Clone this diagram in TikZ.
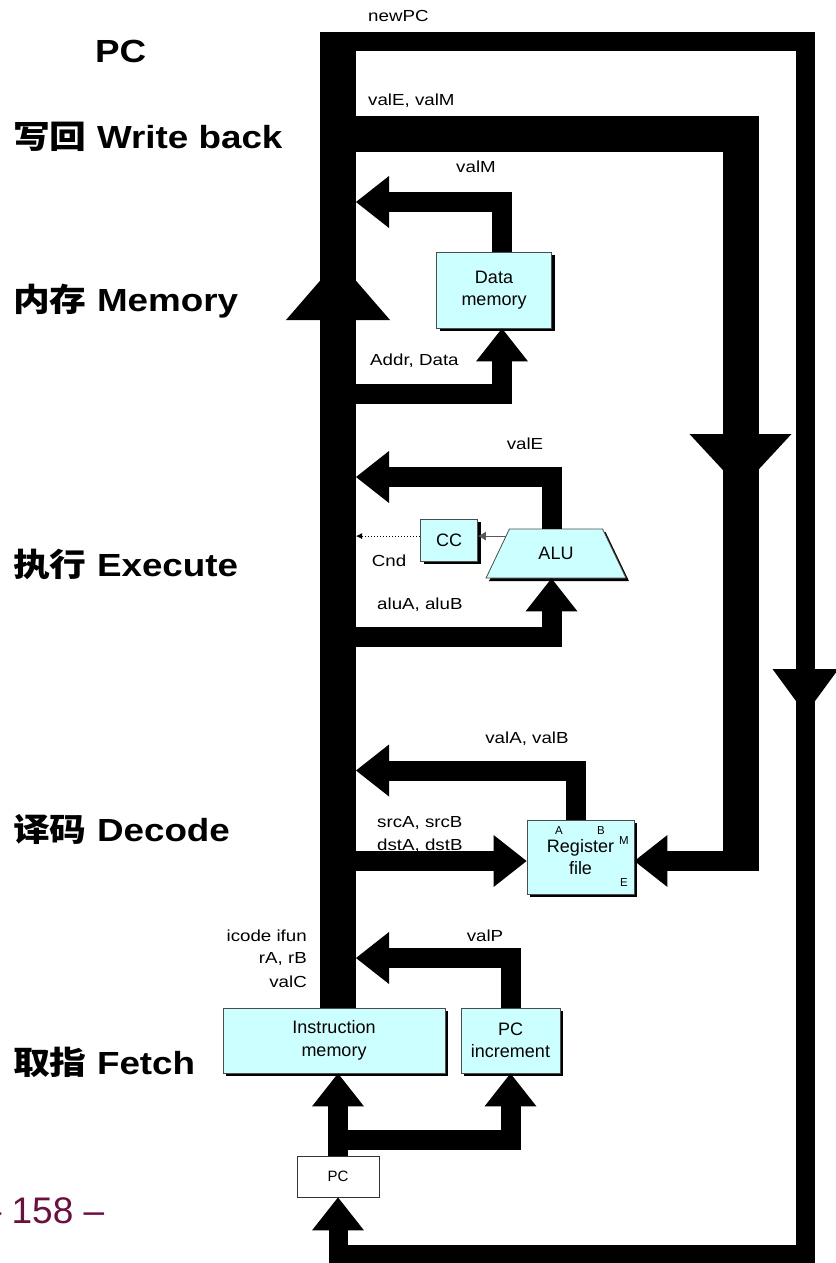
\documentclass[tikz,border=0pt]{standalone}
\usepackage{fontspec}
\setmainfont{Liberation Sans}
\newfontfamily\stagefont{Liberation Sans}[FakeStretch=1.15]
\newfontfamily\stagecjk{Noto Sans CJK SC}[FakeStretch=1.15]
\newfontfamily\busfont{Liberation Sans}[FakeStretch=1.17]
\usetikzlibrary{arrows.meta,shapes.geometric,shadows,calc}
\definecolor{unitfill}{HTML}{CCFFFF}
\definecolor{pagered}{HTML}{6B0F3F}

\begin{document}
\begin{tikzpicture}[x=1pt, y=-1pt,
    unit/.style={draw=black!70, line width=0.8pt, fill=unitfill, inner sep=0pt, align=center,
        font=\fontsize{18}{22.5}\selectfont,
        drop shadow={shadow xshift=3pt, shadow yshift=-3pt, fill=black, opacity=1}},
    bus/.style={line width=20pt, -{Triangle[width=52pt, length=33pt, line width=0pt]}},
    widebus/.style={line width=36pt},
    pcbus/.style={line width=19pt},
    flag/.style={draw=black!65, line width=0.8pt, -{Latex[length=8pt, width=9pt]}},
    sig/.style={font=\busfont\fontsize{16}{19}\selectfont, inner sep=0pt, text height=11.5pt, text depth=0pt},
    stage/.style={font=\stagefont\bfseries\fontsize{32}{38}\selectfont, inner sep=0pt, text height=23pt, text depth=0pt, anchor=west},
    port/.style={font=\fontsize{11.5}{13}\selectfont, inner sep=0pt}]
    \useasboundingbox (0,0) rectangle (835,1263);

    % Stage names
    \node[stage] (stagepc) at (95,51.5) {PC};
    \foreach \y/\cn/\en in {137/写回/Write back, 300/内存/Memory, 565/执行/Execute, 830/译码/Decode, 1063/取指/Fetch}
        \node[stage] (stage\y) at (13,\y) {{\stagecjk\cn} \en};
    \node[font=\fontsize{37}{44}\selectfont, text=pagered, inner sep=0pt, text height=26.5pt, text depth=0pt, anchor=west]
        (pagenum) at (-19.4,1210) {– 158 –};

    % Units
    \node[unit, minimum width=115pt, minimum height=76pt] (dmem) at (494,290) {Data\\memory};
    \node[unit, minimum width=57pt, minimum height=42pt] (cc) at (449,540) {CC};
    \node[unit, trapezium, trapezium angle=55, trapezium stretches=true,
        minimum width=140pt, minimum height=49pt] (alu) at (556,553.5) {ALU};
    \node[unit, minimum width=107pt, minimum height=74pt] (reg) at (580.5,857) {Register\\file};
    \node[unit, minimum width=222pt, minimum height=65pt] (imem) at (334,1040.5) {Instruction\\memory};
    \node[unit, minimum width=99pt, minimum height=65pt] (pcinc) at (510.5,1040.5) {PC\\increment};
    \node[draw=black!80, line width=0.8pt, fill=white, minimum width=82pt, minimum height=41pt,
        font=\fontsize{15}{18}\selectfont] (pcreg) at (338,1176.5) {PC};
    \foreach \lab/\px/\py in {A/559/831, B/601/831, M/624/841, E/624/883}
        \node[port] (port\lab) at (\px,\py) {\lab};

    % Main bus
    \coordinate (busC) at (338,32);
    \coordinate (busR) at (356,32);
    \draw[widebus, -{Triangle[width=104pt, length=60pt, line width=0pt]}] (busC |- imem.north) -- (busC |- 0,260);
    \draw[widebus] (busC |- 0,285) -- (busC);

    % newPC loop
    \draw[pcbus, -{Triangle[width=66pt, length=45pt, line width=0pt]}] (busC |- 0,42) -| (805.5,714);
    \draw[pcbus, -{Triangle[width=52pt, length=33pt, line width=0pt]}] (805.5,698) |- (pcreg.south |- 0,1254) -- (pcreg.south);

    % valE, valM to register file
    \draw[widebus, -{Triangle[width=102pt, length=55pt, line width=0pt]}] (busC |- 0,134) -| (740.5,489);
    \draw[widebus] (740.5,465) -- (740.5,871);
    \draw[bus] (740.5,861) -- ([yshift=-4pt]reg.east);

    % Memory
    \draw[bus] ([xshift=8pt]dmem.north) |- (busR |- 0,202);
    \draw[bus] (busC |- 0,394) -| ([xshift=8pt]dmem.south);

    % Execute
    \draw[bus] ([xshift=-4pt]alu.north) |- (busR |- 0,477);
    \draw[bus] (busC |- 0,637) -| ([xshift=-4.5pt]alu.south);
    \coordinate (aluflag) at ($(alu.top left corner)!0.15!(alu.bottom left corner)$);
    \draw[flag] (aluflag) -- (aluflag -| cc.east);
    \draw[flag, draw=black, dash pattern=on 1.5pt off 1.5pt, -{Latex[length=6pt, width=6pt]}] (aluflag -| cc.west) -- (aluflag -| busR);

    % Decode
    \draw[bus] ([xshift=-4.5pt]reg.north) |- (busR |- 0,770.5);
    \draw[bus] (busC |- 0,861) -- ([yshift=-4pt]reg.west);

    % Fetch
    \draw[bus] (pcinc.north) |- (busR |- 0,958);
    \draw[bus] (pcreg.north) -- (pcreg.north |- imem.south);
    \draw[bus] (pcreg.north |- 0,1140) -| (pcinc.south);

    % Signal labels
    \node[sig, anchor=west] (lblnewpc) at (368,16) {newPC};
    \node[sig, anchor=west] (lblvalem) at (368,100) {valE, valM};
    \node[sig] (lblvalm) at (476,167) {valM};
    \node[sig, anchor=west] (lbladdr) at (370,360) {Addr, Data};
    \node[sig] (lblvale) at (525,444) {valE};
    \node[sig] (lblcnd) at (389,561) {Cnd};
    \node[sig, anchor=west] (lblalu) at (377,604) {aluA, aluB};
    \node[sig] (lblvalab) at (527,738) {valA, valB};
    \node[sig, anchor=west] (lblsrc) at (377,822) {srcA, srcB};
    \node[sig, anchor=west] (lbldst) at (377,845) {dstA, dstB};
    \node[sig, anchor=east] (lblicode) at (307,936) {icode ifun};
    \node[sig, anchor=east] (lblrarb) at (307,958) {rA, rB};
    \node[sig, anchor=east] (lblvalc) at (307,982) {valC};
    \node[sig] (lblvalp) at (485,936) {valP};
\end{tikzpicture}
\end{document}
